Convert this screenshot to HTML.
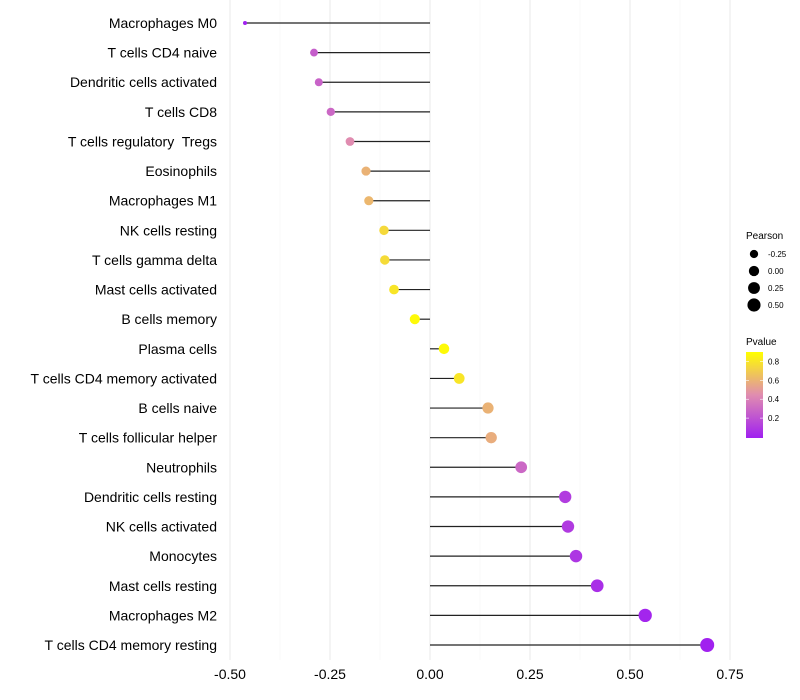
<!DOCTYPE html>
<html><head><meta charset="utf-8"><style>
body{margin:0;background:#fff;font-family:"Liberation Sans",sans-serif}
svg{display:block}
text{white-space:pre}
</style></head><body>
<svg id="chart" width="800" height="700" xmlns="http://www.w3.org/2000/svg">
<defs><linearGradient id="pg" x1="0" y1="1" x2="0" y2="0">
<stop offset="0" stop-color="#A020F0"/><stop offset="0.5" stop-color="#E08CB0"/><stop offset="1" stop-color="#FFFF00"/>
</linearGradient></defs>
<g id="grid"></g><g id="marks"></g><g id="labels"></g>
<g id="legend">
<text x="746" y="239" font-size="10">Pearson</text>
<text x="746" y="345" font-size="10">Pvalue</text>
<rect x="746" y="352" width="17" height="86" fill="url(#pg)"/>
</g>
</svg>
<script>
const categories=["Macrophages M0","T cells CD4 naive","Dendritic cells activated","T cells CD8","T cells regulatory  Tregs","Eosinophils","Macrophages M1","NK cells resting","T cells gamma delta","Mast cells activated","B cells memory","Plasma cells","T cells CD4 memory activated","B cells naive","T cells follicular helper","Neutrophils","Dendritic cells resting","NK cells activated","Monocytes","Mast cells resting","Macrophages M2","T cells CD4 memory resting"];
const pearson=[-0.4625,-0.29,-0.278,-0.248,-0.2,-0.16,-0.153,-0.115,-0.113,-0.09,-0.038,0.035,0.073,0.145,0.153,0.228,0.338,0.345,0.365,0.418,0.538,0.693];
const pvalue=[0.01,0.26,0.28,0.3,0.45,0.6,0.62,0.75,0.76,0.8,0.88,0.88,0.8,0.6,0.58,0.3,0.12,0.11,0.09,0.06,0.02,0.005];
const xTicks=[-0.5,-0.25,0,0.25,0.5,0.75];
const xTickLabels=["-0.50","-0.25","0.00","0.25","0.50","0.75"];
const sizeLegend=[-0.25,0,0.25,0.5];
const sizeLegendLabels=["-0.25","0.00","0.25","0.50"];
const pTicks=[0.2,0.4,0.6,0.8];

const NS="http://www.w3.org/2000/svg";
const X=v=>430+v*400;
const Y=i=>23+i*(622/21);
const pMin=Math.min(...pearson),pMax=Math.max(...pearson);
const R=v=>2+5*Math.sqrt(Math.max(0,(v-pMin)/(pMax-pMin)));
const PY=p=>437-p*(85/0.9);
function hex(h){return [1,3,5].map(i=>parseInt(h.substr(i,2),16));}
const stops=[[0,hex("#A020F0")],[0.45,hex("#E08CB0")],[0.9,hex("#FFFF00")]];
function col(p){p=Math.max(0,Math.min(0.9,p));let a=stops[0],b=stops[1];if(p>0.45){a=stops[1];b=stops[2];}
const t=(p-a[0])/(b[0]-a[0]);return "rgb("+a[1].map((c,k)=>Math.round(c+(b[1][k]-c)*t)).join(",")+")";}
function mk(tag,attrs,parent){const e=document.createElementNS(NS,tag);for(const k in attrs)e.setAttribute(k,attrs[k]);parent.appendChild(e);return e;}
const grid=document.getElementById("grid"),marks=document.getElementById("marks"),labels=document.getElementById("labels"),legend=document.getElementById("legend");
for(let v=-0.5;v<=0.751;v+=0.125){const major=Math.abs((v*4)%1)<0.01;const l=mk("line",{x1:X(v),x2:X(v),y1:0,y2:660,stroke:major?"#ebebeb":"#f3f3f3","stroke-width":major?1.1:0.6},grid);

}
xTicks.forEach((v,i)=>{const t=mk("text",{x:X(v),y:679,"font-size":14,"text-anchor":"middle",fill:"#000"},labels);t.textContent=xTickLabels[i];

});
categories.forEach((c,i)=>{const y=Y(i);
const t=mk("text",{x:217,y:y+5,"font-size":14,"text-anchor":"end",fill:"#000"},labels);t.textContent=c;


const l=mk("line",{x1:X(0),x2:X(pearson[i]),y1:y,y2:y,stroke:"#222","stroke-width":1.2},marks);


const d=mk("circle",{cx:X(pearson[i]),cy:y,r:R(pearson[i]),fill:col(pvalue[i])},marks);

});
sizeLegend.forEach((v,i)=>{const y=254+i*17;
const c=mk("circle",{cx:754,cy:y,r:R(v),fill:"#000"},legend);


const t=mk("text",{x:768,y:y+3,"font-size":8},legend);t.textContent=sizeLegendLabels[i];

});
pTicks.forEach(p=>{const y=PY(p);
const t=mk("text",{x:768,y:y+3,"font-size":8},legend);t.textContent=p.toFixed(1);


mk("line",{x1:746,x2:749,y1:y,y2:y,stroke:"#fff","stroke-width":0.6},legend);
mk("line",{x1:760,x2:763,y1:y,y2:y,stroke:"#fff","stroke-width":0.6},legend);});
</script>
</body></html>
